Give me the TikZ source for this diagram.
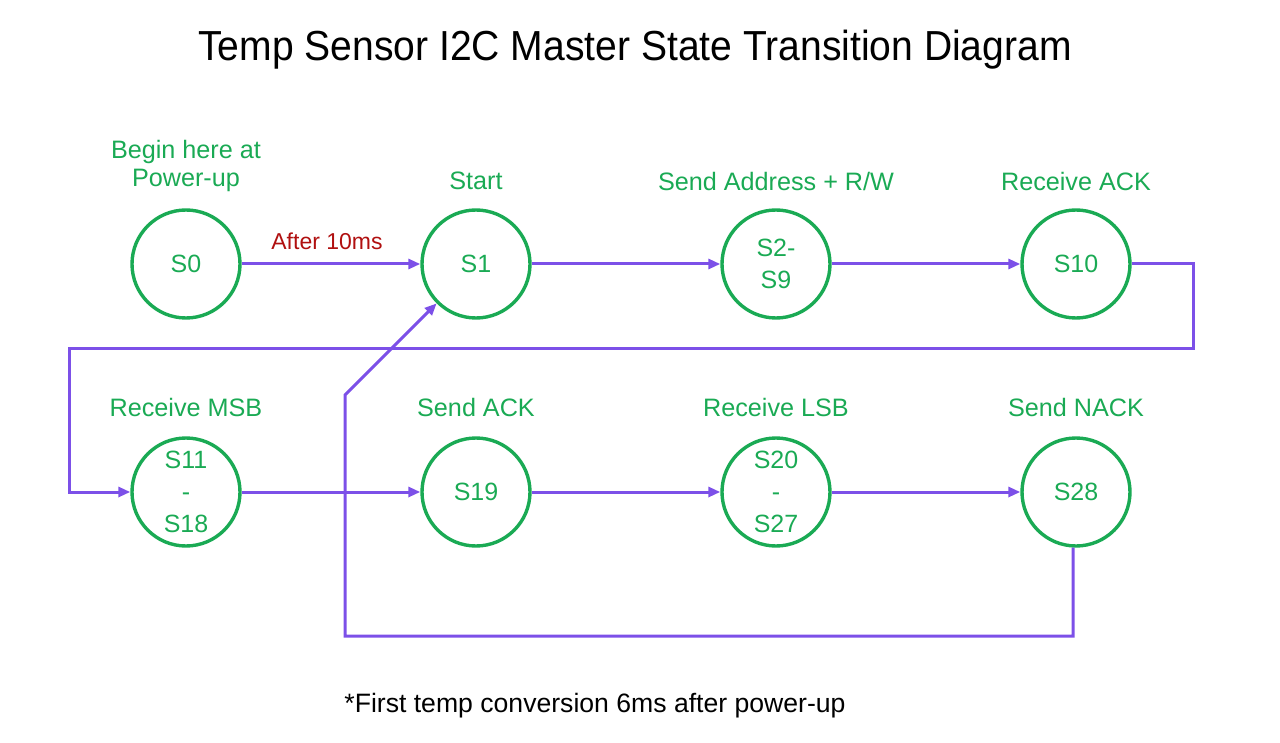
\documentclass[tikz,border=0pt]{standalone}
\usepackage{fontspec}
\setmainfont{Liberation Sans}
\usetikzlibrary{arrows.meta}
\definecolor{stategreen}{RGB}{26,170,84}
\definecolor{arrowpurple}{RGB}{124,80,232}
\definecolor{labelred}{RGB}{176,16,16}
\begin{document}
\begin{tikzpicture}[x=0.5pt,y=-0.5pt,
  state/.style={circle,draw=stategreen,line width=1.7pt,minimum size=54pt,inner sep=0pt,
    text=stategreen,font=\fontsize{12.5}{16}\selectfont,align=center},
  caption/.style={text=stategreen,font=\fontsize{12.6}{14}\selectfont,align=center},
  trans/.style={draw=arrowpurple,line width=1.5pt,-{Triangle[length=6pt,width=5pt]}}]
  \useasboundingbox (0,0) rectangle (1280,743);

  % title
  \node (title) at (635,50) {\fontsize{21}{24}\selectfont\scalebox{0.93}[1]{Temp Sensor I2C Master State Transition Diagram}};

  % first row of states
  \node[state] (s0) at (186,264) {S0};
  \node[state] (s1) at (476,264) {S1};
  \node[state] (s2) at (776,264) {S2-\\S9};
  \node[state] (s10) at (1076,264) {S10};
  \node[caption] (c0) at (186,166) {Begin here at\\Power-up};
  \node[caption] (c1) at (476,181) {Start};
  \node[caption] (c2) at (776,181) {Send Address + R/W};
  \node[caption] (c10) at (1076,181) {Receive ACK};

  % second row of states
  \node[state] (s11) at (186,492) {S11\\-\\S18};
  \node[state] (s19) at (476,492) {S19};
  \node[state] (s20) at (776,492) {S20\\-\\S27};
  \node[state] (s28) at (1076,492) {S28};
  \node[caption] (c11) at (186,407) {Receive MSB};
  \node[caption] (c19) at (476,407) {Send ACK};
  \node[caption] (c20) at (776,407) {Receive LSB};
  \node[caption] (c28) at (1076,407) {Send NACK};

  % corners of the long connectors
  \path
  (1193,264) coordinate (r0)
  (1193,349) coordinate (r1)
  (69,349) coordinate (r2)
  (69,492) coordinate (r3)
  (1073,636) coordinate (b0)
  (345,636) coordinate (b1)
  (345,395) coordinate (b2);

  % transitions
  \draw[trans] (s0) -- node[above=3pt,xshift=-2pt,text=labelred,font=\fontsize{11.5}{13}\selectfont] (t0) {After 10ms} (s1);
  \draw[trans] (s1) -- (s2);
  \draw[trans] (s2) -- (s10);
  \draw[trans] (s10.east) -- (r0) -- (r1) -- (r2) -- (r3) -- (s11.west);
  \draw[trans] (s11) -- (s19);
  \draw[trans] (s19) -- (s20);
  \draw[trans] (s20) -- (s28);
  \draw[trans] (s28.south -| b0) -- (b0) -- (b1) -- (b2) -- (s1);

  % note
  \node (note) at (595,706) {\fontsize{13.3}{15}\selectfont *First temp conversion 6ms after power-up};

\end{tikzpicture}
\end{document}
